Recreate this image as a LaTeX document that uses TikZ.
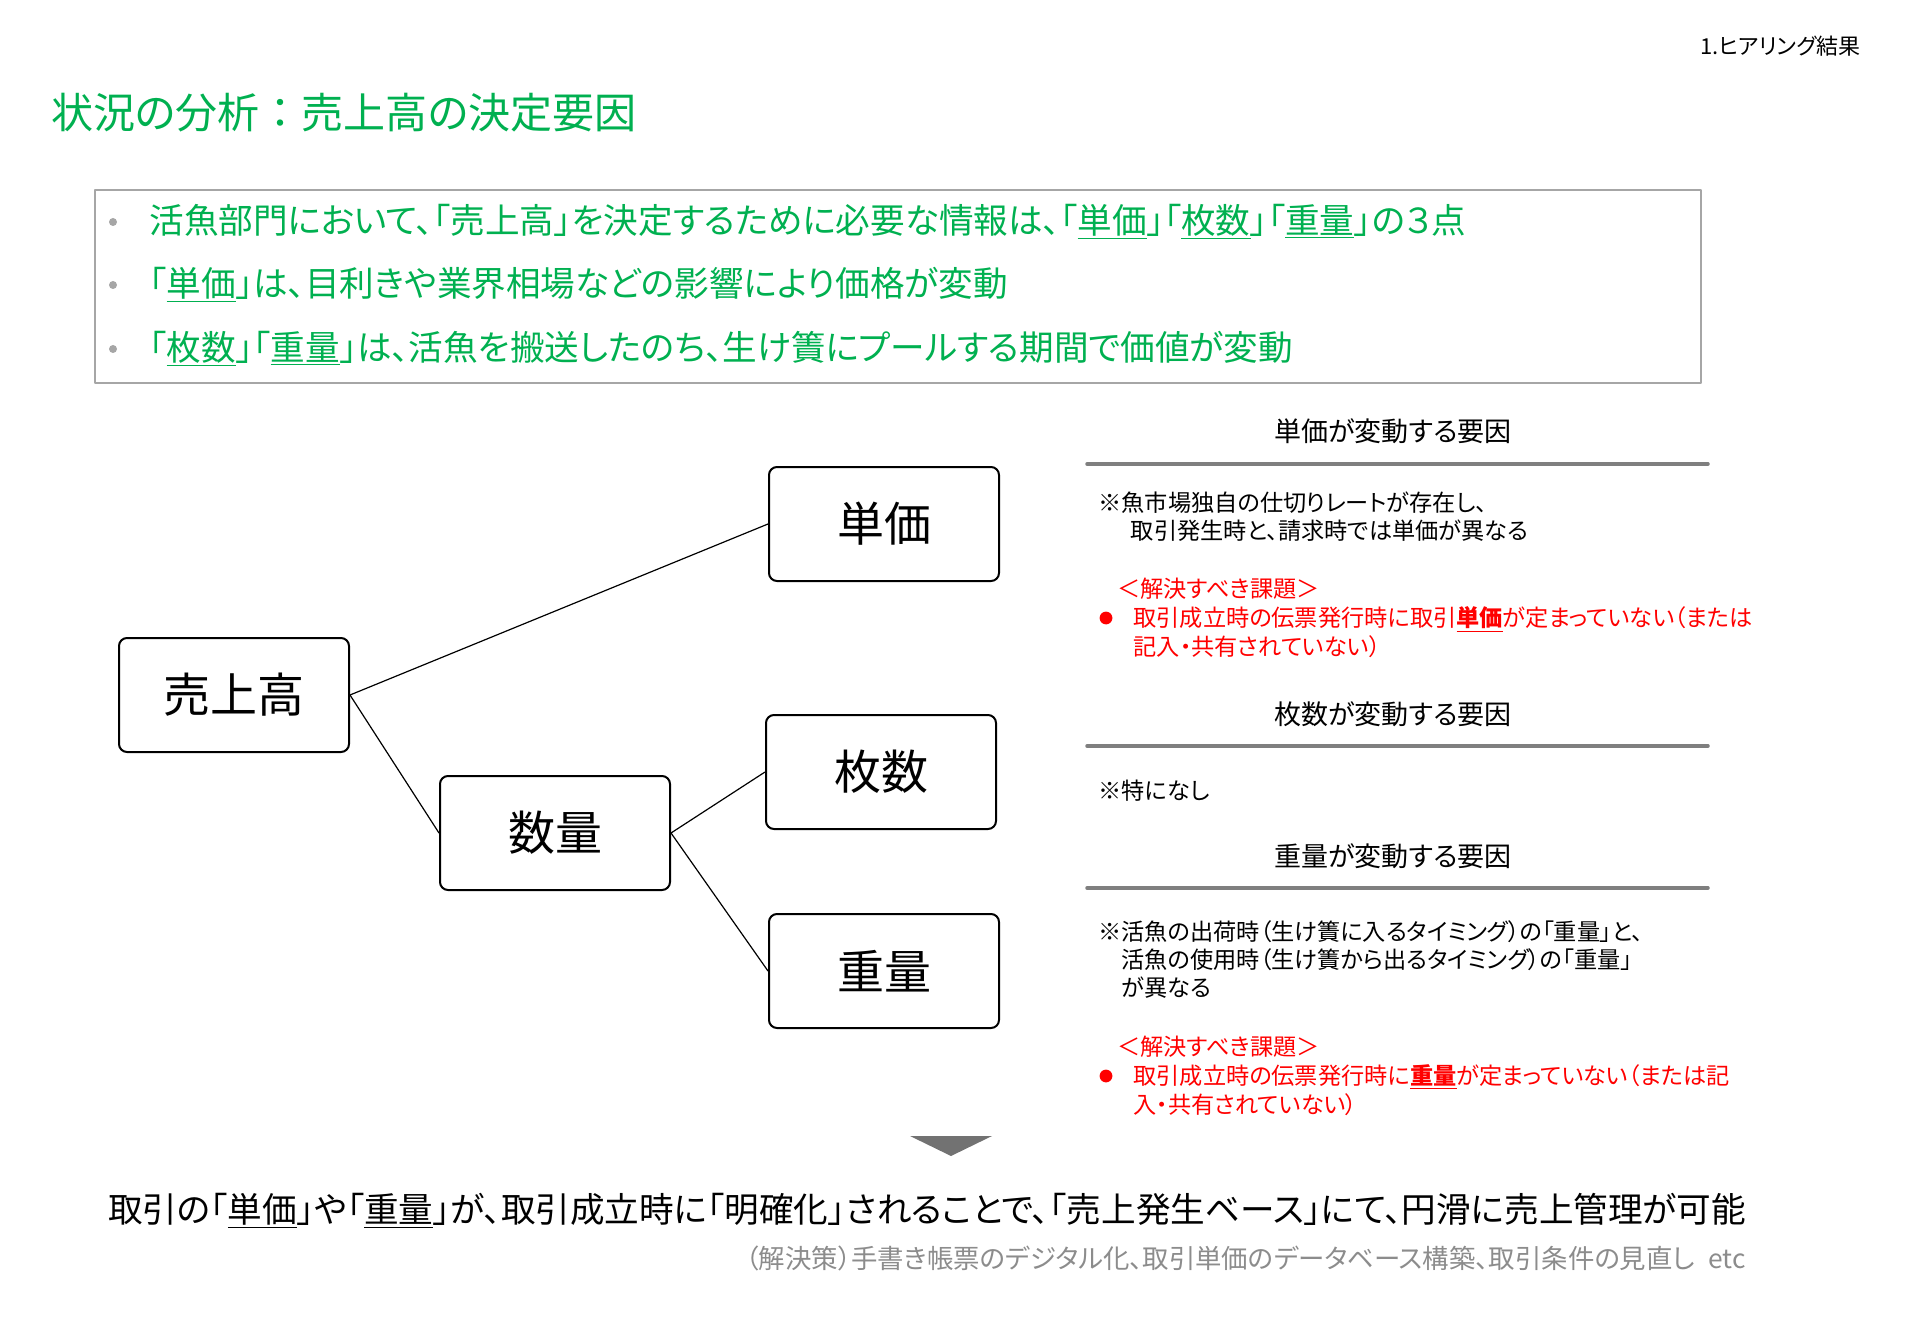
\documentclass[tikz,border=0pt]{standalone}
\usepackage{fontspec}
\setmainfont{Noto Sans CJK JP}[RawFeature=+palt]
\definecolor{leadgreen}{RGB}{0,176,80}
\definecolor{issuered}{RGB}{255,0,0}
\definecolor{rulegray}{RGB}{127,127,127}
\definecolor{notegray}{RGB}{140,140,140}
\begin{document}
\begin{tikzpicture}[x=0.5pt, y=-0.5pt, line join=round, line cap=round,
	factor/.style={draw, line width=1pt, rounded corners=4pt, minimum width=115pt, minimum height=57pt, inner sep=0pt, font=\fontsize{23.5pt}{28pt}\selectfont},
	link/.style={line width=0.6pt},
	txt/.style={inner sep=0pt, align=left},
	lead/.style={txt, anchor=west, text=leadgreen, font=\fontsize{17.3pt}{21pt}\selectfont},
	head/.style={inner sep=0pt, font=\fontsize{13.5pt}{16pt}\selectfont},
	note/.style={txt, font=\fontsize{11.6pt}{14pt}\selectfont},
	issue/.style={note, text=issuered, font=\fontsize{11.6pt}{14.5pt}\selectfont}]
	\def\rx{1087} \def\rxx{1708} \def\hx{1393}
	\useasboundingbox (0,0) rectangle (1920,1326);
	\node[txt, anchor=east, font=\fontsize{11pt}{13pt}\selectfont] (page) at (1861,46) {1.ヒアリング結果};
	\node[txt, anchor=west, text=leadgreen, font=\fontsize{21pt}{25pt}\selectfont] (title) at (51,113) {状況の分析{\addfontfeature{RawFeature=-palt}：}売上高の決定要因};
	\draw[gray!70, line width=0.8pt] (95,190) rectangle (1701,383);
	\foreach \y in {222,285,349} \fill[gray!70] (113,\y) circle[radius=2pt];
	\node[lead] (lead1) at (149,222) {活魚部門において、「売上高」を決定するために必要な情報は、「\underline{単価}」「\underline{枚数}」「\underline{重量}」の３点};
	\node[lead] (lead2) at (149,285) {「\underline{単価}」は、目利きや業界相場などの影響により価格が変動};
	\node[lead] (lead3) at (149,349) {「\underline{枚数}」「\underline{重量}」は、活魚を搬送したのち、生け簀にプールする期間で価値が変動};
	\node[factor] (sales) at (234,695) {売上高};
	\node[factor] (price) at (884,524) {単価};
	\node[factor] (qty) at (555,833) {数量};
	\node[factor] (count) at (881,772) {枚数};
	\node[factor] (weight) at (884,971) {重量};
	\draw[link] (sales.east) -- (price.west);
	\draw[link] (sales.east) -- (qty.west);
	\draw[link] (qty.east) -- (count.west);
	\draw[link] (qty.east) -- (weight.west);
	\node[head] (h1) at (\hx,431) {単価が変動する要因};
	\draw[rulegray, line width=1.75pt] (\rx,464) -- (\rxx,464);
	\node[note, anchor=north west] (n1) at (1098,491) {※魚市場独自の仕切りレートが存在し、\\\hspace*{1.4em}取引発生時と、請求時では単価が異なる};
	\node[issue, anchor=west] (t1) at (1117,589) {＜解決すべき課題＞};
	\fill[issuered] (1106,618) circle[radius=3.2pt];
	\node[issue, anchor=north west] (i1) at (1133,606) {取引成立時の伝票発行時に取引\textbf{\underline{単価}}が定まっていない（または\\記入・共有されていない）};
	\node[head] (h2) at (\hx,714) {枚数が変動する要因};
	\draw[rulegray, line width=1.75pt] (\rx,746) -- (\rxx,746);
	\node[note, anchor=west] (n2) at (1098,791) {※特になし};
	\node[head] (h3) at (\hx,856) {重量が変動する要因};
	\draw[rulegray, line width=1.75pt] (\rx,888) -- (\rxx,888);
	\node[note, anchor=north west] (n3) at (1098,920) {※活魚の出荷時（生け簀に入るタイミング）の「重量」と、\\\hspace*{1em}活魚の使用時（生け簀から出るタイミング）の「重量」\\\hspace*{1em}が異なる};
	\node[issue, anchor=west] (t3) at (1117,1047) {＜解決すべき課題＞};
	\fill[issuered] (1106,1076) circle[radius=3.2pt];
	\node[issue, anchor=north west] (i3) at (1133,1064) {取引成立時の伝票発行時に\textbf{\underline{重量}}が定まっていない（または記\\入・共有されていない）};
	\fill[rulegray!90!black] (910,1136) -- (992,1136) -- (951,1156) -- cycle;
	\node[txt, font=\fontsize{17.3pt}{21pt}\selectfont] (result) at (927,1211) {取引の「\underline{単価}」や「\underline{重量}」が、取引成立時に「明確化」されることで、「売上発生ベース」にて、円滑に売上管理が可能};
	\node[txt, anchor=east, text=notegray, font=\fontsize{13.2pt}{16pt}\selectfont] (remedy) at (1746,1258) {（解決策）手書き帳票のデジタル化、取引単価のデータベース構築、取引条件の見直し\hspace{0.5em}etc};
\end{tikzpicture}
\end{document}
